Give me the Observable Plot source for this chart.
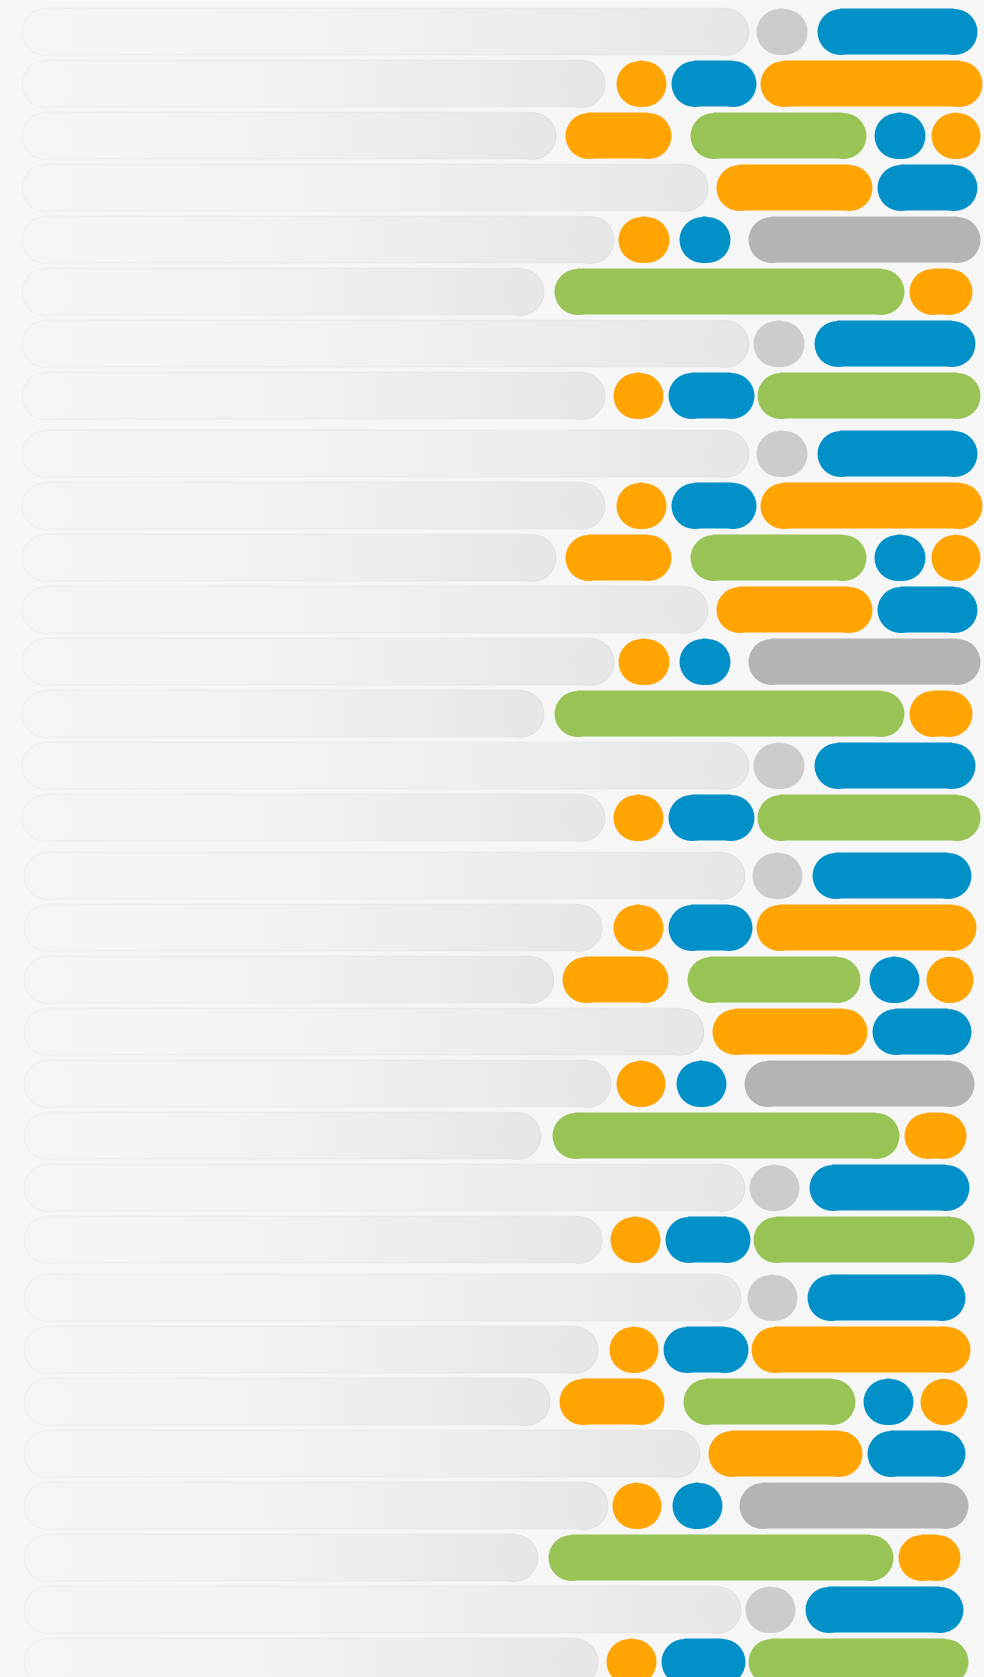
<!DOCTYPE html>
<html>
<head>
<meta charset="utf-8">
<script src="https://cdn.jsdelivr.net/npm/d3@7"></script>
<script src="https://cdn.jsdelivr.net/npm/@observablehq/plot@0.6"></script>
<style>
  html, body { margin: 0; padding: 0; background: #f6f6f6; overflow: hidden; }
</style>
</head>
<body>
<div id="chart"></div>
<script>
// Blocks (stacked groups of 8 rows) and row ids within each block
const blockNames = ["A", "B", "C", "D"];
const rowNames = [1, 2, 3, 4, 5, 6, 7, 8];

// Each row: list of [kind, start, end] segments
const blockA = [
  [["track", 22, 748], ["light", 756, 807], ["blue", 817, 977]],
  [["track", 22, 604], ["orange", 616, 666], ["blue", 671, 756], ["orange", 760, 982]],
  [["track", 22, 555], ["orange", 565, 671], ["green", 690, 866], ["blue", 874, 925], ["orange", 931, 980]],
  [["track", 22, 707], ["orange", 716, 872], ["blue", 877, 977]],
  [["track", 22, 613], ["orange", 618, 669], ["blue", 679, 730], ["silver", 748, 980]],
  [["track", 22, 543], ["green", 554, 904], ["orange", 909, 972]],
  [["track", 22, 748], ["light", 753, 804], ["blue", 814, 975]],
  [["track", 22, 604], ["orange", 613, 663], ["blue", 668, 754], ["green", 757, 980]]
];
const blockB = [
  [["track", 22, 748], ["light", 756, 807], ["blue", 817, 977]],
  [["track", 22, 604], ["orange", 616, 666], ["blue", 671, 756], ["orange", 760, 982]],
  [["track", 22, 555], ["orange", 565, 671], ["green", 690, 866], ["blue", 874, 925], ["orange", 931, 980]],
  [["track", 22, 707], ["orange", 716, 872], ["blue", 877, 977]],
  [["track", 22, 613], ["orange", 618, 669], ["blue", 679, 730], ["silver", 748, 980]],
  [["track", 22, 543], ["green", 554, 904], ["orange", 909, 972]],
  [["track", 22, 748], ["light", 753, 804], ["blue", 814, 975]],
  [["track", 22, 604], ["orange", 613, 663], ["blue", 668, 754], ["green", 757, 980]]
];
const blockC = [
  [["track", 24, 744], ["light", 752, 802], ["blue", 812, 971]],
  [["track", 24, 601], ["orange", 613, 663], ["blue", 668, 752], ["orange", 756, 976]],
  [["track", 24, 553], ["orange", 562, 668], ["green", 687, 860], ["blue", 869, 919], ["orange", 926, 973]],
  [["track", 24, 703], ["orange", 712, 867], ["blue", 872, 971]],
  [["track", 24, 610], ["orange", 616, 665], ["blue", 676, 726], ["silver", 744, 974]],
  [["track", 24, 540], ["green", 552, 899], ["orange", 904, 966]],
  [["track", 24, 744], ["light", 749, 799], ["blue", 809, 969]],
  [["track", 24, 601], ["orange", 610, 660], ["blue", 665, 750], ["green", 753, 974]]
];
const blockD = [
  [["track", 24, 740], ["light", 747, 797], ["blue", 807, 965]],
  [["track", 24, 597], ["orange", 609, 658], ["blue", 663, 748], ["orange", 751, 970]],
  [["track", 24, 549], ["orange", 559, 664], ["green", 683, 855], ["blue", 863, 913], ["orange", 920, 967]],
  [["track", 24, 699], ["orange", 708, 862], ["blue", 867, 965]],
  [["track", 24, 607], ["orange", 612, 661], ["blue", 672, 722], ["silver", 739, 968]],
  [["track", 24, 537], ["green", 548, 893], ["orange", 898, 960]],
  [["track", 24, 740], ["light", 745, 795], ["blue", 805, 963]],
  [["track", 24, 597], ["orange", 606, 656], ["blue", 661, 745], ["green", 748, 968]]
];

const kinds = ["light", "blue", "orange", "green", "silver"];
const kindColors = ["#cccccc", "#0290c8", "#ffa400", "#98c455", "#b4b4b4"];

// Flat table built from the arrays above
const segs = [];
[blockA, blockB, blockC, blockD].forEach((rows, bi) =>
  rows.forEach((row, ri) =>
    row.forEach(([kind, x1, x2]) =>
      segs.push({block: blockNames[bi], row: rowNames[ri], kind, x1, x2}))));

const EDGE = 0.8;    // faint outline around the grey tracks
const isTrack = d => d.kind === "track";
const isColored = d => d.kind !== "track";

// A pill = a bar inset by R at both ends + two round caps of radius R
function pill(R, filter, barFill, leftFill, rightFill, grow = 0) {
  return [
    Plot.barX(segs, {filter, x1: "x1", x2: "x2", y: "row", fill: barFill,
      insetLeft: R, insetRight: R, insetTop: -grow, insetBottom: -grow}),
    Plot.dot(segs, {filter, x: "x1", dx: R, y: "row", r: R + grow, fill: leftFill}),
    Plot.dot(segs, {filter, x: "x2", dx: -R, y: "row", r: R + grow, fill: rightFill})
  ];
}

function draw(R) {
  return Plot.plot({
    width: 984,
    height: 1688,
    marginTop: 4.5,
    marginBottom: 0.5,
    marginLeft: 0,
    marginRight: 0,
    style: {background: "#f6f6f6"},
    facet: {data: segs, y: "block"},
    fy: {domain: blockNames, paddingInner: 0.0147, paddingOuter: 0, axis: null, label: null},
    x: {domain: [0, 984], axis: null},
    y: {domain: rowNames, paddingInner: 0.125, paddingOuter: 0.0625, axis: null},
    color: {domain: kinds, range: kindColors},
    marks: [
      ...pill(R, isTrack, "#e3e3e3", "#ebebeb", "#dcdcdc", EDGE),
      ...pill(R, isTrack, "url(#trackGrad)", "#f5f5f5", "#e7e7e7"),
      ...pill(R, isColored, "kind", "kind", "kind")
    ]
  });
}

// first pass to learn the band height, then draw with caps of exactly half of it
const probe = draw(22.75);
const bw = probe.scale("y").bandwidth;
const chart = draw(bw / 2);

const svgEl = chart.tagName.toLowerCase() === "svg" ? chart : chart.querySelector("svg");
const defs = d3.select(svgEl).insert("defs", ":first-child");
const grad = defs.append("linearGradient")
  .attr("id", "trackGrad").attr("x1", 0).attr("x2", 1).attr("y1", 0).attr("y2", 0);
grad.append("stop").attr("offset", "0").attr("stop-color", "#f5f5f5");
grad.append("stop").attr("offset", "0.45").attr("stop-color", "#f2f2f2");
grad.append("stop").attr("offset", "1").attr("stop-color", "#e7e7e7");

document.getElementById("chart").appendChild(chart);
</script>
</body>
</html>
